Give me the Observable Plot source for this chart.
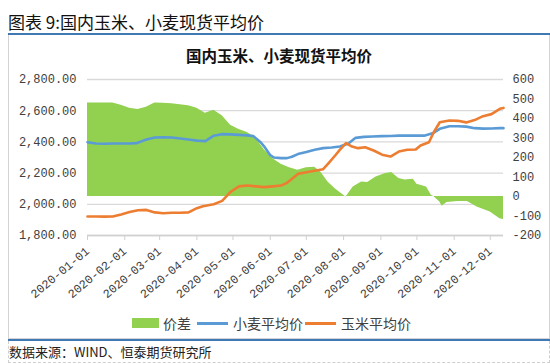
<!DOCTYPE html>
<html><head><meta charset="utf-8">
<script src="https://cdn.jsdelivr.net/npm/d3@7"></script>
<script src="https://cdn.jsdelivr.net/npm/@observablehq/plot@0.6"></script>
<style>
body{margin:0;background:#fff;font-family:"Noto Sans CJK SC",sans-serif;}
#wrap{position:relative;width:550px;height:364px;overflow:hidden;background:#fff;}
.abs{position:absolute;white-space:nowrap;}
#title{left:8px;top:12px;font-size:17px;line-height:19px;color:#111;}
.bline{position:absolute;left:8px;width:542px;height:2px;background:#3F78B5;}
#box{position:absolute;left:8px;top:35px;width:540px;height:303px;border:1px solid #d4d4d4;border-top:none;}
#srcbox{position:absolute;left:8px;top:341px;width:540px;height:21px;border:1px dashed #cfcfcf;border-top:none;}
#ctitle{left:0;width:558px;text-align:center;top:47px;font-size:15.5px;line-height:17px;font-weight:bold;color:#111;}
#chart{position:absolute;left:0;top:60px;}
.leg{font-size:14px;line-height:16px;color:#404040;top:315px;}
#src{left:9px;top:344px;font-size:13px;line-height:15px;color:#222;}
</style></head><body>
<div id="wrap">
  <div id="title" class="abs">图表 9:国内玉米、小麦现货平均价</div>
  <div class="bline" style="top:33px"></div>
  <div id="box"></div>
  <div id="ctitle" class="abs">国内玉米、小麦现货平均价</div>
  <div id="chart"></div>
  <div class="abs" style="left:132px;top:318px;width:27px;height:10px;background:#92D050;"></div>
  <div class="abs leg" style="left:163px;">价差</div>
  <div class="abs" style="left:197px;top:322px;width:31px;height:3px;background:#5B9BD5;"></div>
  <div class="abs leg" style="left:233px;">小麦平均价</div>
  <div class="abs" style="left:305px;top:322px;width:31px;height:3px;background:#ED7D31;"></div>
  <div class="abs leg" style="left:341px;">玉米平均价</div>
  <div class="bline" style="top:339px"></div>
  <div id="srcbox"></div>
  <div id="src" class="abs">数据来源：WIND、恒泰期货研究所</div>
</div>
<script>
// ---- data ----
const wheatDates = ["2020-01-01","2020-01-08","2020-01-15","2020-01-22","2020-01-29","2020-02-05","2020-02-11","2020-02-19","2020-02-26","2020-03-04","2020-03-11","2020-03-18","2020-03-25","2020-04-01","2020-04-08","2020-04-15","2020-04-22","2020-04-29","2020-05-06","2020-05-13","2020-05-18","2020-05-24","2020-05-27","2020-06-01","2020-06-04","2020-06-10","2020-06-15","2020-06-19","2020-06-24","2020-07-01","2020-07-08","2020-07-15","2020-07-22","2020-07-29","2020-08-05","2020-08-11","2020-08-18","2020-08-25","2020-09-02","2020-09-09","2020-09-16","2020-09-23","2020-09-30","2020-10-07","2020-10-14","2020-10-20","2020-10-28","2020-11-04","2020-11-11","2020-11-18","2020-11-25","2020-12-02","2020-12-09","2020-12-12"];
const wheatValues = [2398,2390,2388,2390,2390,2390,2392,2415,2428,2430,2428,2422,2415,2408,2405,2440,2450,2448,2445,2442,2437,2398,2370,2315,2300,2296,2296,2305,2322,2335,2350,2360,2364,2370,2390,2426,2432,2435,2437,2438,2440,2441,2440,2440,2455,2484,2500,2500,2498,2488,2485,2486,2488,2488];

const cornDates = ["2020-01-01","2020-01-08","2020-01-15","2020-01-22","2020-01-29","2020-02-05","2020-02-12","2020-02-19","2020-02-26","2020-03-04","2020-03-11","2020-03-18","2020-03-25","2020-04-01","2020-04-06","2020-04-15","2020-04-22","2020-04-29","2020-05-06","2020-05-13","2020-05-20","2020-05-27","2020-06-03","2020-06-10","2020-06-15","2020-06-21","2020-06-24","2020-07-01","2020-07-08","2020-07-15","2020-07-19","2020-07-25","2020-07-29","2020-08-03","2020-08-08","2020-08-13","2020-08-19","2020-08-26","2020-09-02","2020-09-09","2020-09-16","2020-09-23","2020-09-30","2020-10-04","2020-10-11","2020-10-15","2020-10-20","2020-10-28","2020-11-04","2020-11-11","2020-11-18","2020-11-25","2020-12-02","2020-12-09","2020-12-12"];
const cornValues = [1922,1922,1921,1922,1935,1950,1962,1964,1948,1943,1946,1946,1948,1975,1988,2000,2022,2080,2115,2120,2115,2110,2115,2120,2138,2175,2195,2206,2215,2225,2259,2313,2350,2392,2370,2360,2366,2345,2318,2306,2338,2350,2351,2377,2398,2462,2526,2537,2535,2525,2540,2565,2578,2612,2618];

const spreadDates = ["2020-01-01","2020-01-08","2020-01-15","2020-01-22","2020-01-29","2020-02-05","2020-02-12","2020-02-19","2020-02-26","2020-03-04","2020-03-11","2020-03-18","2020-03-25","2020-04-01","2020-04-08","2020-04-15","2020-04-22","2020-04-29","2020-05-06","2020-05-13","2020-05-20","2020-05-27","2020-06-03","2020-06-10","2020-06-17","2020-06-24","2020-07-01","2020-07-08","2020-07-13","2020-07-19","2020-07-25","2020-07-29","2020-08-03","2020-08-09","2020-08-16","2020-08-21","2020-08-28","2020-09-05","2020-09-10","2020-09-16","2020-09-21","2020-09-28","2020-10-01","2020-10-09","2020-10-13","2020-10-15","2020-10-20","2020-10-22","2020-10-26","2020-11-04","2020-11-12","2020-11-20","2020-12-01","2020-12-09","2020-12-12"];
const spreadValues = [479,479,479,479,468,452,446,458,479,478,476,470,465,453,427,442,414,365,343,328,300,240,195,165,148,135,148,150,126,75,40,20,-2,49,75,72,100,118,123,92,84,89,63,49,6,0,-28,-50,-31,-25,-25,-54,-80,-114,-118];

const leftTicks = [1800,2000,2200,2400,2600,2800];
const rightTicks = [-200,-100,0,100,200,300,400,500,600];
const monthTicks = ["2020-01-01","2020-02-01","2020-03-01","2020-04-01","2020-05-01","2020-06-01","2020-07-01","2020-08-01","2020-09-01","2020-10-01","2020-11-01","2020-12-01"];

// ---- build ----
const parse = d3.utcParse("%Y-%m-%d");
const toL = v => 1800 + (v + 200) * 1.25;          // right axis -> left scale
const fromL = v => Math.round((v - 1800) / 1.25 - 200);
const wheat = wheatDates.map((d, i) => ({date: parse(d), v: wheatValues[i]}));
const corn = cornDates.map((d, i) => ({date: parse(d), v: cornValues[i]}));
const spread = spreadDates.map((d, i) => ({date: parse(d), v: spreadValues[i]}));

const chart = Plot.plot({
  width: 550, height: 245,
  marginTop: 19, marginBottom: 70, marginLeft: 87, marginRight: 47,
  x: {type: "utc", domain: [parse("2020-01-01"), parse("2020-12-12")]},
  y: {domain: [1800, 2800]},
  style: {fontFamily: "Liberation Mono, monospace", fontSize: "12px", color: "#404040", background: "transparent"},
  marks: [
    Plot.ruleY(leftTicks, {stroke: "#d9d9d9", strokeWidth: 1.3}),
    Plot.areaY(spread, {x: "date", y1: d => toL(0), y2: d => toL(d.v), fill: "#92D050"}),
    Plot.lineY(wheat, {x: "date", y: "v", stroke: "#5B9BD5", strokeWidth: 2.6}),
    Plot.lineY(corn, {x: "date", y: "v", stroke: "#ED7D31", strokeWidth: 2.6}),
    Plot.axisY(leftTicks, {anchor: "left", tickSize: 0, tickPadding: 11, tickFormat: d3.format(",.2f"), fill: "#404040", label: null}),
    Plot.axisY(rightTicks.map(toL), {anchor: "right", tickSize: 0, tickPadding: 9, tickFormat: v => String(fromL(v)), fill: "#404040", label: null}),
    Plot.axisX(monthTicks.map(parse), {tickSize: 5, tickPadding: 9, tickRotate: -40, tickFormat: d3.utcFormat("%Y-%m-%d"), stroke: "#d0d0d0", fill: "#404040", label: null}),
    Plot.ruleY([1800], {stroke: "#d0d0d0", strokeWidth: 1.3})
  ]
});
document.getElementById("chart").appendChild(chart);
</script>
</body></html>
